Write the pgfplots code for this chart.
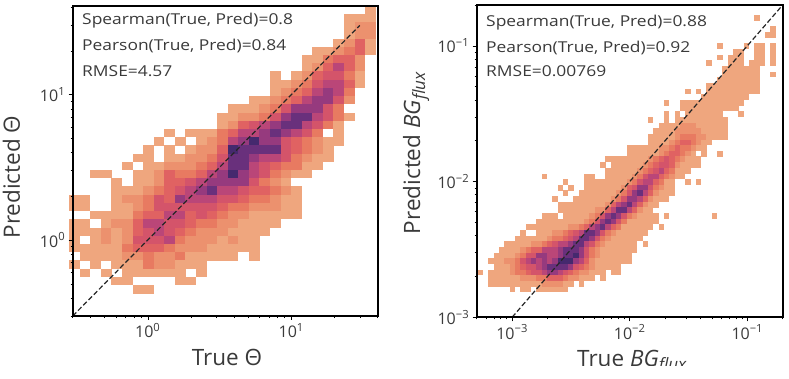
\documentclass[border=0pt]{standalone}
\usepackage{fontspec}
\setmainfont{Open Sans}
\usepackage{pgfplots}
\usepackage{pgfplotstable}
\pgfplotsset{compat=1.18}
\definecolor{txt}{HTML}{3A3A3A}
\newcommand\pow[1]{10\textsuperscript{#1}}
\newcommand\flux{\textit{BG}\raisebox{-0.22em}{\fontsize{17}{17}\selectfont\textit{flux}}}
\pgfdeclareplotmark{cellL}{\pgfpathrectangle{\pgfpoint{-5.35pt}{-4.2pt}}{\pgfpoint{10.7pt}{8.4pt}}\pgfusepathqfill}
\pgfdeclareplotmark{cellR}{\pgfpathrectangle{\pgfpoint{-2.72pt}{-2.87pt}}{\pgfpoint{5.44pt}{5.74pt}}\pgfusepathqfill}
\pgfplotsset{
  heatcell/.style={scatter, only marks, mark=#1, forget plot, point meta=explicit,
    scatter/use mapped color={fill=mapped color,draw=none}},
}
\pgfplotstableread{
y 0.3088 0.3659 0.4335 0.5136 0.6085 0.7210 0.8542 1.012 1.199 1.421 1.683 1.994 2.363 2.800 3.317 3.930 4.656 5.517 6.537 7.745 9.176 10.87 12.88 15.26 18.08 21.42 25.38 30.07 35.63
38.37 0 0 0 0 0 0 0 0 0 0 0 0 0 0 0 0 0 0 0 0 0 0 0 0 0 0 0 0 1
33.68 0 0 0 0 0 0 0 0 0 0 0 0 0 0 0 0 0 0 0 0 0 0 0 0 0 0 1 1 1
29.57 0 0 0 0 0 0 0 0 0 0 0 0 0 0 0 0 0 0 0 0 0 0 0 0 0 0 1 2 2
25.96 0 0 0 0 0 0 0 0 0 0 0 0 0 0 0 0 0 0 0 0 0 0 0 0 0 0 1 2 2
22.79 0 0 0 0 0 0 0 0 0 0 0 0 0 0 0 0 0 0 0 0 0 0 0 0 0 1 2 4 1
20.01 0 0 0 0 0 0 0 0 0 0 0 0 0 0 0 0 0 0 0 0 0 0 0 1 1 2 3 4 1
17.57 0 0 0 0 0 0 0 0 0 0 0 0 0 0 0 0 0 0 0 0 0 0 1 1 3 4 4 2 0
15.42 0 0 0 0 0 0 0 0 0 0 0 0 0 0 0 0 0 0 0 0 0 0 1 2 4 6 4 2 0
13.54 0 0 0 0 0 0 0 0 0 0 0 0 0 0 0 0 0 0 0 1 0 1 2 4 5 5 3 1 0
11.88 0 0 0 0 0 0 0 0 0 0 0 0 0 0 0 0 0 0 0 1 1 2 3 5 6 6 4 1 0
10.43 0 0 0 0 0 0 0 0 0 0 0 0 0 0 0 0 0 0 0 1 2 3 4 6 7 6 3 0 0
9.16 0 0 0 0 0 0 0 0 0 0 0 0 0 0 0 0 0 1 1 2 3 4 6 7 7 5 2 0 0
8.04 0 0 0 0 0 0 0 0 0 0 0 0 0 0 0 1 1 1 2 3 5 7 7 7 5 3 0 0 0
7.06 0 0 0 0 0 0 0 0 0 0 0 0 0 0 1 1 2 2 3 5 7 8 8 6 5 3 1 0 0
6.20 0 0 0 0 0 0 0 0 0 0 0 0 0 0 1 2 4 5 6 7 8 8 6 5 3 1 0 0 0
5.44 0 0 0 0 0 0 0 0 0 1 0 1 1 1 3 4 6 6 7 8 7 6 5 3 0 1 0 0 0
4.78 0 0 0 0 0 0 0 0 1 0 1 0 1 2 3 6 7 9 7 7 5 4 3 2 1 1 0 0 0
4.19 0 0 0 0 0 0 0 1 0 1 0 1 2 2 4 9 8 8 8 8 5 4 3 2 1 0 0 0 0
3.68 0 0 0 0 0 0 1 1 0 1 1 2 2 3 5 8 8 7 6 6 5 3 2 1 1 0 0 0 0
3.23 0 0 0 0 0 1 0 1 1 2 2 2 3 4 6 8 8 6 5 4 3 3 1 1 0 0 0 0 0
2.84 0 0 1 1 0 0 1 1 2 4 3 3 4 6 7 9 7 6 5 3 2 1 1 0 0 0 0 0 0
2.49 0 0 0 0 1 0 1 1 2 4 4 5 6 7 7 7 7 5 3 2 1 0 0 0 0 0 0 0 0
2.19 0 0 0 0 1 1 1 2 3 4 5 6 7 8 6 6 5 4 4 3 2 1 0 0 0 0 0 0 0
1.92 1 1 0 0 1 2 2 3 5 4 7 6 6 6 5 5 4 3 3 2 1 1 0 0 0 0 0 0 0
1.69 1 1 0 0 1 1 2 3 5 5 5 5 5 5 4 3 3 2 2 2 1 1 0 0 0 0 0 0 0
1.48 0 0 1 1 1 1 3 4 4 6 6 4 5 4 3 2 2 1 1 1 1 1 0 0 0 0 0 0 0
1.30 1 1 0 1 2 2 4 6 6 5 5 4 3 3 2 2 1 1 1 1 0 0 0 0 0 0 0 0 0
1.14 1 1 1 2 1 2 4 5 6 5 4 3 2 2 2 1 1 1 1 0 0 0 0 0 0 0 0 0 0
1.00 1 0 1 2 1 2 5 5 5 6 3 2 2 2 1 2 1 1 0 0 0 0 0 0 0 0 0 0 0
0.879 1 1 1 1 1 3 4 4 4 3 2 2 2 1 1 1 1 1 0 0 0 0 0 0 0 0 0 0 0
0.772 0 1 1 1 1 2 2 3 2 2 3 1 1 1 1 1 0 1 0 0 0 0 0 0 0 0 0 0 0
0.678 1 0 1 0 1 1 1 3 2 2 1 1 1 0 0 0 0 0 0 0 0 0 0 0 0 0 0 0 0
0.595 0 1 0 1 0 1 1 1 1 1 1 0 1 0 0 0 0 0 0 0 0 0 0 0 0 0 0 0 0
0.522 0 0 0 0 1 1 0 0 0 0 1 1 0 0 0 0 0 0 0 0 0 0 0 0 0 0 0 0 0
0.458 0 0 0 0 0 0 1 1 0 0 0 0 0 0 0 0 0 0 0 0 0 0 0 0 0 0 0 0 0
}\tableL
\pgfplotstableread{
y 0.000538 0.000597 0.000662 0.000735 0.000816 0.000905 0.001005 0.001115 0.001237 0.001373 0.001524 0.001691 0.001877 0.002083 0.002312 0.002566 0.002847 0.003160 0.003507 0.003892 0.004319 0.004794 0.005320 0.005904 0.006552 0.007272 0.008070 0.008956 0.00994 0.01103 0.01224 0.01359 0.01508 0.01673 0.01857 0.02061 0.02287 0.02538 0.02817 0.03126 0.03470 0.03851 0.04273 0.04743 0.05263 0.05841 0.06483 0.07195 0.07985 0.08861 0.09834 0.1091 0.1211 0.1344 0.1492 0.1656
.1606 0 0 0 0 0 0 0 0 0 0 0 0 0 0 0 0 0 0 0 0 0 0 0 0 0 0 0 0 0 0 0 0 0 0 0 0 0 0 0 0 0 0 0 0 0 0 0 0 0 0 0 0 1 0 0 0
.1325 0 0 0 0 0 0 0 0 0 0 0 0 0 0 0 0 0 0 0 0 0 0 0 0 0 0 0 0 0 0 0 0 0 0 0 0 0 0 0 0 0 0 0 0 0 0 0 0 0 0 0 0 0 0 0 1
.1204 0 0 0 0 0 0 0 0 0 0 0 0 0 0 0 0 0 0 0 0 0 0 0 0 0 0 0 0 0 0 0 0 0 0 0 0 0 0 0 0 0 0 0 0 0 0 0 0 0 0 0 0 0 0 1 1
.0994 0 0 0 0 0 0 0 0 0 0 0 0 0 0 0 0 0 0 0 0 0 0 0 0 0 0 0 0 0 0 0 0 0 0 0 0 0 0 0 0 0 0 0 0 0 1 0 0 0 0 1 0 1 1 0 1
.0903 0 0 0 0 0 0 0 0 0 0 0 0 0 0 0 0 0 0 0 0 0 0 0 0 0 0 0 0 0 0 0 0 0 0 0 0 0 0 0 0 0 0 0 0 0 0 0 0 1 1 0 0 1 1 0 1
.0820 0 0 0 0 0 0 0 0 0 0 0 0 0 0 0 0 0 0 0 0 0 0 0 0 0 0 0 0 0 0 0 0 0 0 0 0 0 0 0 0 0 0 0 0 0 1 0 1 1 1 0 0 1 1 0 1
.0745 0 0 0 0 0 0 0 0 0 0 0 0 0 0 0 0 0 0 0 0 0 0 0 0 0 0 0 0 0 0 0 0 0 0 0 0 0 0 0 0 0 0 0 1 0 0 0 1 1 1 0 1 1 1 0 1
.0677 0 0 0 0 0 0 0 0 0 0 0 0 0 0 0 0 0 0 0 0 0 0 0 0 0 0 0 0 0 0 0 0 0 0 0 0 0 0 0 0 0 0 0 0 0 0 1 1 1 1 1 1 1 0 0 0
.0615 0 0 0 0 0 0 0 0 0 0 0 0 0 0 0 0 0 0 0 0 0 0 0 0 0 0 0 0 0 0 0 0 0 0 0 0 0 0 0 0 0 0 0 0 0 0 1 1 1 1 1 1 1 0 0 1
.0559 0 0 0 0 0 0 0 0 0 0 0 0 0 0 0 0 0 0 0 0 0 0 0 0 0 0 0 0 0 0 0 0 0 0 0 0 0 0 0 0 0 0 0 0 0 1 1 1 1 1 1 1 1 0 0 0
.0508 0 0 0 0 0 0 0 0 0 0 0 0 0 0 0 0 0 0 0 0 0 0 0 0 0 0 0 0 0 0 0 0 0 0 0 0 0 0 0 0 0 0 0 1 1 1 1 1 1 1 1 1 1 0 0 0
.0461 0 0 0 0 0 0 0 0 0 0 0 0 0 0 0 0 0 0 0 0 0 0 0 0 0 0 0 0 0 0 0 0 0 0 0 0 0 0 0 1 0 1 0 1 1 1 1 1 1 1 1 1 1 0 0 0
.0419 0 0 0 0 0 0 0 0 0 0 0 0 0 0 0 0 0 0 0 0 0 0 0 0 0 0 0 0 0 0 0 0 0 0 0 0 0 0 0 0 0 0 1 1 1 1 1 1 1 1 1 0 0 0 0 0
.0381 0 0 0 0 0 0 0 0 0 0 0 0 0 0 0 0 0 0 0 0 0 0 0 0 0 0 0 0 0 0 0 0 0 0 0 1 0 0 1 1 1 1 1 1 1 1 1 1 1 1 0 0 0 0 0 0
.0346 0 0 0 0 0 0 0 0 0 0 0 0 0 0 0 0 0 0 0 0 0 0 0 0 0 0 0 0 0 0 0 0 0 0 0 0 0 0 1 1 1 1 1 1 1 1 1 1 1 0 0 0 0 0 0 0
.0314 0 0 0 0 0 0 0 0 0 0 0 0 0 0 0 0 0 0 0 0 0 0 0 0 0 0 0 0 0 0 0 0 0 0 0 1 0 1 0 1 1 1 1 1 1 1 0 0 0 1 0 0 0 0 0 0
.0285 0 0 0 0 0 0 0 0 0 0 0 0 0 0 0 0 0 0 0 0 0 0 0 0 0 0 0 0 0 0 0 0 1 0 0 1 0 1 1 1 1 1 1 1 1 1 1 0 0 0 0 0 0 0 0 0
.0259 0 0 0 0 0 0 0 0 0 0 0 0 0 0 0 0 0 0 0 0 0 0 0 0 0 0 0 0 0 0 0 0 0 0 1 1 1 1 2 2 2 1 1 1 1 1 1 0 0 0 0 0 0 0 0 0
.0235 0 0 0 0 0 0 0 0 0 0 0 0 0 0 0 0 0 0 0 0 0 0 0 0 0 0 0 0 0 0 0 0 0 1 1 1 1 2 2 2 2 2 1 1 1 1 1 0 0 0 0 0 0 0 0 0
.0214 0 0 0 0 0 0 0 0 0 0 0 0 0 0 0 0 0 0 0 0 0 0 0 0 0 0 0 0 0 0 0 0 1 1 1 1 1 2 3 3 3 2 2 1 1 1 1 0 0 0 0 0 0 0 0 0
.0194 0 0 0 0 0 0 0 0 0 0 0 0 0 0 0 0 0 0 0 0 0 0 0 0 0 0 0 0 0 0 0 0 1 1 1 1 2 3 4 4 3 2 1 1 0 0 0 0 0 0 0 0 0 0 0 0
.0177 0 0 0 0 0 0 0 0 0 0 0 0 0 0 0 0 0 0 0 0 0 0 0 0 0 0 0 0 1 1 1 1 1 1 2 2 3 4 3 3 2 1 1 0 0 0 0 0 0 0 0 0 0 0 0 0
.0160 0 0 0 0 0 0 0 0 0 0 0 0 0 0 0 0 0 0 0 0 0 0 0 0 0 0 0 0 1 1 1 1 1 1 2 3 4 4 3 2 1 0 1 0 0 1 0 0 0 0 0 0 0 0 0 0
.0146 0 0 0 0 0 0 0 0 0 0 0 0 0 0 0 0 0 0 0 0 0 0 0 0 1 1 1 1 1 1 1 1 2 3 4 5 4 3 2 1 1 1 0 0 0 0 0 0 0 0 0 0 0 0 0 0
.0132 0 0 0 0 0 0 0 0 0 0 0 0 0 0 0 0 0 0 0 0 0 0 0 1 0 1 1 1 1 1 1 2 3 4 5 5 4 2 1 1 1 1 0 0 0 0 0 0 0 0 0 0 0 0 0 0
.0120 0 0 0 0 0 0 0 0 0 0 0 0 0 0 0 0 0 0 0 0 0 0 0 0 1 1 1 1 1 1 2 3 4 5 6 4 3 1 1 1 0 0 0 0 0 0 0 0 0 0 0 0 0 0 0 0
.0109 0 0 0 0 0 0 0 0 0 0 0 0 1 0 0 0 0 0 0 0 1 1 0 0 1 1 1 1 1 2 3 5 6 6 4 3 2 1 1 0 0 0 0 0 0 0 0 0 0 0 0 0 0 0 0 0
.00992 0 0 0 0 0 0 0 0 0 0 0 0 0 0 0 0 1 0 0 0 1 1 1 1 1 1 1 1 2 3 5 6 6 4 3 1 1 0 0 1 0 1 0 0 0 0 0 0 0 0 0 0 0 0 0 0
.00901 0 0 0 0 0 0 0 0 0 0 0 0 0 0 0 1 0 1 0 0 1 1 1 1 1 1 1 2 4 5 7 7 5 3 2 1 1 0 0 0 0 0 0 0 0 0 0 0 0 0 0 0 0 0 0 0
.00819 0 0 0 0 0 0 0 0 0 0 0 0 0 0 0 0 1 0 0 1 1 1 1 1 1 1 2 3 5 7 8 6 4 2 1 1 1 0 0 0 0 0 0 0 0 0 0 0 0 0 0 0 0 0 0 0
.00744 0 0 0 0 0 0 0 0 0 0 0 0 0 0 1 0 0 0 1 1 1 1 1 1 1 2 3 5 7 7 6 4 2 1 1 1 0 0 0 0 0 0 0 0 0 0 0 0 0 0 0 0 0 0 0 0
.00676 0 0 0 0 0 0 0 0 0 0 0 0 0 0 0 1 1 1 1 1 1 1 1 1 2 4 6 7 8 6 4 2 1 1 0 0 0 0 0 0 0 0 0 0 0 0 0 0 0 0 0 0 0 0 0 0
.00614 0 0 0 0 0 0 0 0 0 0 0 0 0 0 0 1 1 1 1 1 1 1 2 2 4 6 8 8 6 4 2 1 1 0 0 0 0 0 0 0 0 0 0 0 0 0 0 0 0 0 0 0 0 0 0 0
.00558 0 0 0 0 0 0 0 0 0 0 0 0 1 1 1 0 1 1 1 1 1 2 3 5 7 8 7 5 3 2 1 1 1 1 0 1 0 0 0 0 0 0 0 0 1 0 0 0 0 0 0 0 0 0 0 0
.00507 0 0 0 0 0 0 0 0 0 0 0 1 1 1 1 1 1 1 1 1 2 3 5 7 8 7 5 3 1 1 1 1 1 1 0 0 0 0 0 0 0 0 0 0 0 0 0 0 0 0 0 0 0 0 0 0
.00460 0 0 0 0 0 0 0 0 0 1 1 1 1 1 1 1 1 2 2 3 4 6 7 8 6 4 3 1 1 1 1 1 1 0 1 0 0 0 0 0 0 0 0 0 0 0 0 0 0 0 0 0 0 0 0 0
.00418 0 0 0 0 0 0 0 0 1 0 0 1 1 1 2 2 3 4 5 6 8 8 7 5 3 2 1 1 1 1 1 1 0 0 0 0 0 0 0 0 0 0 0 0 0 0 0 0 0 0 0 0 0 0 0 0
.00380 0 0 0 0 0 0 0 1 1 1 1 1 1 2 3 3 4 5 6 8 8 7 5 3 2 1 1 1 1 1 1 0 0 0 0 0 0 0 0 0 0 0 0 0 0 0 0 0 0 0 0 0 0 0 0 0
.00345 0 0 0 0 0 1 1 1 1 1 2 2 3 4 5 6 6 7 8 8 6 5 3 2 1 1 1 1 1 1 0 1 0 0 0 0 0 0 0 0 0 0 0 0 0 0 0 0 0 0 0 0 0 0 0 0
.00314 0 0 0 0 1 1 1 1 2 3 4 4 6 6 6 7 8 8 8 7 5 3 2 1 1 1 1 1 1 1 0 0 0 0 0 0 0 0 0 0 0 0 0 0 0 0 0 0 0 0 0 0 0 0 0 0
.00285 0 0 0 1 1 1 1 2 3 5 5 7 7 6 6 7 8 8 9 7 5 3 2 1 1 1 1 1 1 0 0 0 0 0 0 0 0 0 0 0 0 0 0 0 0 0 0 0 0 0 0 0 0 0 0 0
.00259 0 0 1 1 1 2 2 3 5 6 7 6 7 6 7 9 9 9 7 6 4 2 1 1 1 1 1 1 1 0 0 0 0 0 0 0 0 0 0 0 0 0 0 0 0 0 0 0 0 0 0 0 0 0 0 0
.00235 0 0 0 1 1 1 2 3 4 5 5 6 7 8 8 8 8 7 5 4 3 2 1 1 1 1 1 0 0 0 0 0 0 0 0 0 0 0 0 0 0 0 0 0 0 0 0 0 0 0 0 0 0 0 0 0
.00214 1 0 1 1 1 1 2 3 3 4 5 5 6 7 7 6 5 4 3 2 2 1 1 1 0 1 1 0 0 0 0 0 0 0 0 0 0 0 0 0 0 0 0 0 0 0 0 0 0 0 0 0 0 0 0 0
.00194 0 0 1 1 1 1 1 1 2 2 2 3 3 4 4 4 3 2 2 1 1 1 0 1 0 0 0 0 0 0 0 0 0 0 0 0 0 0 0 0 0 0 0 0 0 0 0 0 0 0 0 0 0 0 0 0
.00176 0 0 1 1 1 1 1 1 1 1 1 1 2 2 2 2 1 1 0 1 0 0 0 0 0 0 0 0 0 0 0 0 0 0 0 0 0 0 0 0 0 0 0 0 0 0 0 0 0 0 0 0 0 0 0 0
.00160 0 0 0 0 0 0 1 0 1 1 0 1 1 1 1 1 1 0 0 0 0 0 0 0 0 0 0 0 0 0 0 0 0 0 0 0 0 0 0 0 0 0 0 0 0 0 0 0 0 0 0 0 0 0 0 0
}\tableR
\pgfplotsset{
  common axis/.style={
    scale only axis, clip mode=individual, axis line style={line width=1.8pt,black},
    tick align=outside, major tick length=4pt, minor tick length=2.2pt,
    tick style={black,line width=0.5pt}, xtick pos=bottom, ytick pos=left,
    tick label style={font=\fontsize{16}{17}\selectfont,text=txt},
    label style={font=\fontsize{22.5}{24}\selectfont,text=txt},
    colormap={heatmap}{rgb255=(239,166,126) rgb255=(236,145,110) rgb255=(232,122,97) rgb255=(224,98,98) rgb255=(212,84,106) rgb255=(186,70,120) rgb255=(150,58,126) rgb255=(105,48,124) rgb255=(69,41,110)},
    point meta min=1, point meta max=9, axis on top,
  },
}
\begin{document}
\begin{tikzpicture}[x=1pt,y=1pt]
\path[use as bounding box] (0,0) rectangle (789,379);
\begin{axis}[xmode=log, ymode=log, common axis, at={(72.7pt,63pt)}, anchor=south west, width=305pt, height=310.3pt,
  xmin=0.3, xmax=40, ymin=0.3, ymax=41,
  xtick={1,10}, xticklabels={\pow{0},\pow{1}},
  ytick={1,10}, yticklabels={\pow{0},\pow{1}},
  minor xtick={0.3,0.4,0.5,0.6,0.7,0.8,0.9,2,3,4,5,6,7,8,9,20,30,40},
  minor ytick={0.3,0.4,0.5,0.6,0.7,0.8,0.9,2,3,4,5,6,7,8,9,20,30,40},
  xlabel={True Θ}, ylabel={Predicted Θ},
  xlabel style={at={(axis description cs:0.506,-0.161)},anchor=base},
  ylabel style={at={(axis description cs:-0.173,0.448)},anchor=base}]
\pgfplotsinvokeforeach{0.3088,0.3659,0.4335,0.5136,0.6085,0.7210,0.8542,1.012,1.199,1.421,1.683,1.994,2.363,2.800,3.317,3.930,4.656,5.517,6.537,7.745,9.176,10.87,12.88,15.26,18.08,21.42,25.38,30.07,35.63}{
  \addplot[heatcell=cellL] table[x expr=#1, y expr={\thisrow{#1}>0 ? \thisrow{y} : nan}, meta=#1] {\tableL};
}
\addplot[black!85, line width=1.2pt, dash pattern=on 5pt off 2.5pt, forget plot] coordinates {(0.3,0.3) (30,30)};
\end{axis}
\begin{axis}[xmode=log, ymode=log, common axis, at={(476.7pt,61.7pt)}, anchor=south west, width=306pt, height=312.3pt,
  xmin=0.0005, xmax=0.2, ymin=0.001, ymax=0.2,
  xtick={0.001,0.01,0.1}, xticklabels={\pow{−3},\pow{−2},\pow{−1}},
  ytick={0.001,0.01,0.1}, yticklabels={\pow{−3},\pow{−2},\pow{−1}},
  minor xtick={0.0005,0.0006,0.0007,0.0008,0.0009,0.002,0.003,0.004,0.005,0.006,0.007,0.008,0.009,0.02,0.03,0.04,0.05,0.06,0.07,0.08,0.09,0.2},
  minor ytick={0.002,0.003,0.004,0.005,0.006,0.007,0.008,0.009,0.02,0.03,0.04,0.05,0.06,0.07,0.08,0.09,0.2},
  xlabel={True \flux}, ylabel={Predicted \flux},
  xlabel style={at={(axis description cs:0.5075,-0.156)},anchor=base},
  ylabel style={at={(axis description cs:-0.185,0.526)},anchor=base}]
\pgfplotsinvokeforeach{0.000538,0.000662,0.000735,0.000816,0.000905,0.001005,0.001115,0.001237,0.001373,0.001524,0.001691,0.001877,0.002083,0.002312,0.002566,0.002847,0.003160,0.003507,0.003892,0.004319,0.004794,0.005320,0.005904,0.006552,0.007272,0.008070,0.008956,0.00994,0.01103,0.01224,0.01359,0.01508,0.01673,0.01857,0.02061,0.02287,0.02538,0.02817,0.03126,0.03470,0.03851,0.04273,0.04743,0.05263,0.05841,0.06483,0.07195,0.07985,0.08861,0.09834,0.1091,0.1211,0.1344,0.1492,0.1656}{
  \addplot[heatcell=cellR] table[x expr=#1, y expr={\thisrow{#1}>0 ? \thisrow{y} : nan}, meta=#1] {\tableR};
}
\addplot[black!85, line width=1.2pt, dash pattern=on 5pt off 2.5pt, forget plot] coordinates {(0.001,0.001) (0.2,0.2)};
\end{axis}
\begin{scope}[every node/.style={anchor=base west,inner sep=0pt,text=txt,font=\fontsize{15}{16}\selectfont,xscale=1.16,transform shape}]
\node at (82,354) {Spearman(True, Pred)=0.8};
\node at (82,328) {Pearson(True, Pred)=0.84};
\node at (82,302) {RMSE=4.57};
\node at (486,352) {Spearman(True, Pred)=0.88};
\node at (486,326) {Pearson(True, Pred)=0.92};
\node at (486,302) {RMSE=0.00769};
\end{scope}
\fill[white] (400,0) rectangle (789,12.5);
\end{tikzpicture}
\end{document}
